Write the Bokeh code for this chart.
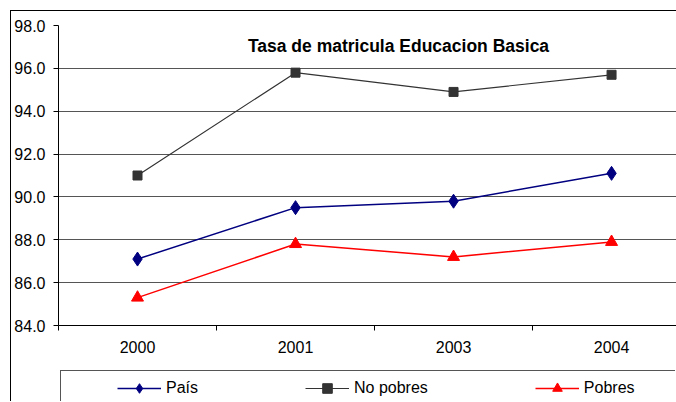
from bokeh.plotting import figure
from bokeh.layouts import column
from bokeh.models import (Range1d, FixedTicker, Legend, LegendItem, Label,
                          PrintfTickFormatter)
from bokeh.embed import file_html
from bokeh.resources import INLINE

# ---- data ----
years = ["2000", "2001", "2003", "2004"]
pais = [87.1, 89.5, 89.8, 91.1]
no_pobres = [91.0, 95.8, 94.9, 95.7]
pobres = [85.3, 87.8, 87.2, 87.9]
y_ticks = [84, 86, 88, 90, 92, 94, 96, 98]
title_text = "Tasa de matricula Educacion Basica"
series_names = ["País", "No pobres", "Pobres"]

FONT = "Liberation Sans"

xs = [i + 0.5 for i in range(len(years))]

series = [
    dict(y=pais, color="#000080", lw=1.5, marker="diamond", size=14),
    dict(y=no_pobres, color="#333333", lw=1.2, marker="square", size=9),
    dict(y=pobres, color="#FF0000", lw=1.5, marker="triangle", size=12),
]

# ---------------- main chart ----------------
p = figure(width=665, height=359, output_backend="svg", toolbar_location=None,
           x_range=Range1d(0, 3.911), y_range=Range1d(84, 98),
           min_border_left=47, min_border_top=14, min_border_right=0,
           min_border_bottom=45)
p.outline_line_color = None
p.background_fill_color = "white"
p.border_fill_color = "white"

xa = p.xaxis[0]
xa.ticker = FixedTicker(ticks=xs, minor_ticks=list(range(len(years) + 1)))
xa.major_label_overrides = {x: y for x, y in zip(xs, years)}
xa.major_tick_in = 0
xa.major_tick_out = 0
xa.minor_tick_in = 0
xa.minor_tick_out = 5
xa.minor_tick_line_color = "black"
xa.axis_line_color = "black"
xa.major_label_text_font = FONT
xa.major_label_text_font_size = "16px"
xa.major_label_text_color = "black"
xa.major_label_standoff = 10

ya = p.yaxis[0]
ya.ticker = FixedTicker(ticks=y_ticks)
ya.formatter = PrintfTickFormatter(format="%.1f")
ya.major_tick_in = 0
ya.major_tick_out = 5
ya.minor_tick_line_color = None
ya.axis_line_color = "black"
ya.major_tick_line_color = "black"
ya.major_label_text_font = FONT
ya.major_label_text_font_size = "16px"
ya.major_label_text_color = "black"
ya.major_label_standoff = 8

p.xgrid.grid_line_color = None
p.ygrid.grid_line_color = "#555555"
p.ygrid.grid_line_width = 1

for s in series:
    p.line(xs, s["y"], line_color=s["color"], line_width=s["lw"])
    p.scatter(xs, s["y"], marker=s["marker"], size=s["size"],
              fill_color=s["color"], line_color=s["color"])

p.add_layout(Label(x=340, y=280, x_units="screen", y_units="screen",
                   text=title_text, text_font=FONT, text_font_size="17.5px",
                   text_font_style="bold", text_align="center",
                   text_baseline="middle", text_color="black"))

# ---------------- legend strip ----------------
lg = figure(width=615, height=31, output_backend="svg", toolbar_location=None,
            x_range=Range1d(100, 101), y_range=Range1d(0, 1),
            x_axis_location=None, y_axis_location=None,
            min_border_left=0, min_border_right=0, min_border_top=0,
            min_border_bottom=0)
lg.outline_line_color = None
lg.xgrid.grid_line_color = None
lg.ygrid.grid_line_color = None
lg.styles = {"margin-left": "49px", "border-left": "1px solid #555555",
             "border-top": "1px solid #555555"}

items = []
for name, s in zip(series_names, series):
    rl = lg.line(xs, s["y"], line_color=s["color"], line_width=s["lw"])
    rm = lg.scatter(xs, s["y"], marker=s["marker"], size=s["size"],
                    fill_color=s["color"], line_color=s["color"])
    items.append(LegendItem(label=name, renderers=[rl, rm]))

legend = Legend(items=items, orientation="horizontal", location=(9, 2),
                border_line_color=None, background_fill_alpha=0,
                padding=2, spacing=107, glyph_width=44, glyph_height=24,
                label_height=24, label_standoff=5,
                label_text_font=FONT, label_text_font_size="16px",
                label_text_color="black", margin=0)
lg.add_layout(legend, "center")

layout = column(p, lg)
layout.styles = {"margin-left": "10px", "margin-top": "10px",
                 "border-left": "1px solid black", "border-top": "1px solid black"}

open("out.html", "w").write(file_html(layout, INLINE))
